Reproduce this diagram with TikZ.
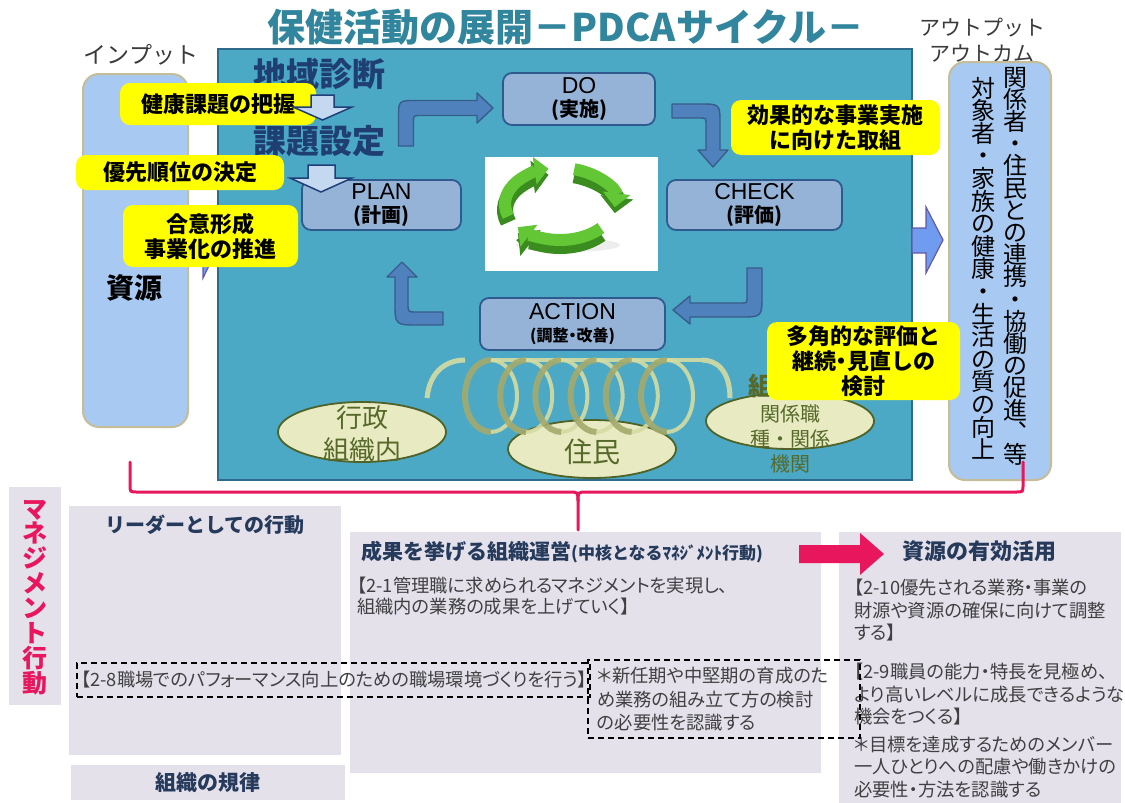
\documentclass[tikz,border=0pt]{standalone}
\usepackage{fontspec}
\setmainfont{Noto Sans CJK JP}
\newfontfamily\bodyjp[RawFeature=+palt]{Noto Sans CJK JP}
\newfontfamily\latinsans{Liberation Sans}
\usetikzlibrary{arrows.meta,shapes.geometric,calc}

\definecolor{titlecol}{HTML}{31859C}
\definecolor{labelgray}{HTML}{3A3A3A}
\definecolor{mainbg}{HTML}{4BA9C6}
\definecolor{mainedge}{HTML}{2E6A8C}
\definecolor{sidefill}{HTML}{A8CAF2}
\definecolor{sideedge}{HTML}{C4BD97}
\definecolor{pdcafill}{HTML}{95B3D7}
\definecolor{pdcaedge}{HTML}{2F5A8E}
\definecolor{calloutyellow}{HTML}{FFFF00}
\definecolor{navytext}{HTML}{1F3F73}
\definecolor{blockfill}{HTML}{4F81BD}
\definecolor{blockedge}{HTML}{385D8A}
\definecolor{hollowfill}{HTML}{C4D8EF}
\definecolor{hollowedge}{HTML}{1F3F78}
\definecolor{olivedk}{HTML}{4F6228}
\definecolor{olivetext}{HTML}{56692A}
\definecolor{ellfill}{HTML}{E8EBC2}
\definecolor{coildark}{HTML}{A4AA6C}
\definecolor{coillight}{HTML}{D5DBA2}
\definecolor{cycdark}{HTML}{3A8C1E}
\definecolor{cyclight}{HTML}{62C635}
\definecolor{outfill}{HTML}{709CEF}
\definecolor{outedge}{HTML}{6458A8}
\definecolor{hotpink}{HTML}{E8175D}
\definecolor{panelbg}{HTML}{E4E1EB}
\definecolor{ptitlecol}{HTML}{263A5C}
\definecolor{bodytext}{HTML}{404040}

\tikzset{
  sidebox/.style={fill=sidefill, draw=sideedge, line width=2pt, rounded corners=16pt, inner sep=0pt},
  pdcabox/.style={draw=pdcaedge, line width=1.8pt, fill=pdcafill, rounded corners=9pt, align=center, inner sep=0pt,
                  font=\fontsize{20}{23}\selectfont},
  callout/.style={fill=calloutyellow, rounded corners=10pt, align=center, inner sep=0pt,
                  font=\fontsize{22}{25}\selectfont\bfseries},
  ringnode/.style={ellipse, draw=olivedk, line width=1.8pt, fill=ellfill, inner sep=0pt},
  ringtext/.style={text=olivetext, align=center, inner sep=0pt},
  blockarrow/.style={fill=blockfill, draw=blockedge, line width=1.4pt, line join=round},
  hollowarrow/.style={fill=hollowfill, draw=hollowedge, line width=1.5pt, line join=miter},
  panel/.style={fill=panelbg, draw=none, inner sep=0pt},
  ptitle/.style={text=ptitlecol, inner sep=0pt, font=\fontsize{20}{22}\selectfont\bfseries},
  bodyline/.style={anchor=west, inner sep=0pt, text=bodytext, font=\bodyjp\fontsize{18.3}{20}\selectfont},
  dashbox/.style={draw=black, line width=1.2pt, dash pattern=on 6pt off 4pt, inner sep=0pt},
  vchar/.style={inner sep=0pt, text height=21pt, text depth=3pt},
  bracket/.style={draw=hotpink, line width=3pt, line cap=round},
}

\begin{document}
\begin{tikzpicture}[x=1pt,y=-1pt]
\useasboundingbox (0,0) rectangle (1125,803);
\fill[white] (0,0) rectangle (1125,803);

% ---------- headings ----------
\node[font=\fontsize{38}{40}\selectfont\bfseries, text=titlecol] (title) at (566,27) {保健活動の展開－PDCAサイクル－};
\node[font=\fontsize{23}{25}\selectfont, text=labelgray] (inlabel) at (141,55) {インプット};
\node[font=\fontsize{21}{26}\selectfont, text=labelgray, align=center] (outlabel) at (982,40) {アウトプット\\アウトカム};

% ---------- input column ----------
\node[sidebox, minimum width=105pt, minimum height=353pt] (input) at (135.5,250.5) {};
\node[font=\fontsize{28}{30}\selectfont\bfseries] (shigen) at (134,288) {資源};

% ---------- main frame ----------
\node[draw=mainedge, fill=mainbg, line width=1.8pt, minimum width=694pt, minimum height=431pt, inner sep=0pt] (mainbox) at (565,264.5) {};

% arrow from the input column into the frame
\draw[fill=outfill, draw=outedge, line width=1.2pt, line join=miter]
  (188,229) -- (203,229) -- (203,212) -- (219,245) -- (203,278) -- (203,261) -- (188,261) -- cycle;

% ---------- output column ----------
\draw[fill=outfill, draw=outedge, line width=1.2pt, line join=miter]
  (912,228) -- (926,228) -- (926,207) -- (943,240) -- (926,273) -- (926,253) -- (912,253) -- cycle;
\node[sidebox, minimum width=102pt, minimum height=418pt] (output) at (1000,271) {};
\foreach \ch [count=\k from 0] in {関,係,者,・,住,民,と,の,連,携,・,協,働,の,促,進,︑,等}
  \node[vchar, font=\fontsize{24}{24}\selectfont] (vr\k) at (1015,{77+22.2*\k}) {\ch};
\foreach \ch [count=\k from 0] in {対,象,者,・,家,族,の,健,康,・,生,活,の,質,の,向,上}
  \node[vchar, font=\fontsize{24}{24}\selectfont] (vl\k) at (983,{88+22.6*\k}) {\ch};

% ---------- diagnosis / target setting ----------
\node[font=\fontsize{33}{35}\selectfont\bfseries, text=navytext] (shindan) at (319,74) {地域診断};
\node[font=\fontsize{33}{35}\selectfont\bfseries, text=navytext] (settei) at (319,141) {課題設定};

% ---------- PDCA boxes ----------
\node[pdcabox, minimum width=152pt, minimum height=52pt] (do) at (579,99)
  {{\latinsans\fontsize{23}{23}\selectfont DO}\\{\bfseries (実施)}};
\node[pdcabox, minimum width=159pt, minimum height=50pt] (plan) at (381.5,205)
  {{\latinsans\fontsize{23}{23}\selectfont PLAN}\\{\bfseries (計画)}};
\node[pdcabox, minimum width=175pt, minimum height=50pt] (check) at (754.5,205)
  {{\latinsans\fontsize{23}{23}\selectfont CHECK}\\{\bfseries (評価)}};
\node[pdcabox, minimum width=185pt, minimum height=52pt, font=\fontsize{16}{22}\selectfont] (action) at (572.5,324)
  {{\latinsans\fontsize{23}{23}\selectfont ACTION}\\{\bodyjp\bfseries (調整・改善)}};

% ---------- bent block arrows of the cycle ----------
% plan -> do
\draw[blockarrow] (398.5,146) -- (398.5,118) .. controls (398.5,100.5) .. (416,100.5) -- (477,100.5)
  -- (477,93) -- (493,108) -- (477,123) -- (477,115.5) -- (420,115.5) .. controls (413.5,115.5) .. (413.5,122)
  -- (413.5,146) -- cycle;
% do -> check
\draw[blockarrow] (672,104) -- (700,104) .. controls (720,104) .. (720,124) -- (720,150) -- (728,150)
  -- (713,167) -- (698,150) -- (706,150) -- (706,124) .. controls (706,118) .. (700,118) -- (672,118) -- cycle;
% check -> action
\draw[blockarrow] (747,268) -- (762,268) -- (762,295) .. controls (762,317) .. (740,317) -- (690,317)
  -- (690,324) -- (673,310) -- (690,296) -- (690,303) -- (741,303) .. controls (747,303) .. (747,297) -- cycle;
% action -> plan
\draw[blockarrow] (443,325) -- (418,325) .. controls (395,325) .. (395,302) -- (395,277) -- (387,277)
  -- (402,262) -- (417,277) -- (408,277) -- (408,304) .. controls (408,312) .. (416,312) -- (443,312) -- cycle;

% ---------- cycle picture ----------
\node[fill=white, minimum width=173pt, minimum height=114pt, inner sep=0pt] (cyclepic) at (571.5,214) {};
\coordinate (cyc) at (560,204);
\fill[black!7] (568,245) ellipse [x radius=52, y radius=7];
\foreach \a/\b in {160/258, 285/365, 42/140} {
  \draw[cycdark, line width=16pt, -{Triangle[length=16pt,width=32pt]}]
    ($(cyc)+(0,6)+(\a:55 and 36)$) arc[start angle=\a, end angle=\b, x radius=55, y radius=36];
  \draw[cyclight, line width=12pt, -{Triangle[length=14pt,width=27pt]}]
    ($(cyc)+(\a:55 and 36)$) arc[start angle=\a, end angle=\b, x radius=55, y radius=36];
}

% ---------- partners ----------
\node[ringnode, minimum width=168pt, minimum height=60pt] (gyosei) at (362,432) {};
\node[ringnode, minimum width=168pt, minimum height=58pt] (jumin) at (592,449) {};
\node[ringnode, minimum width=168pt, minimum height=56pt] (kankei) at (790,421) {};
\node[ringtext, font=\fontsize{26}{32}\selectfont] (gyoseitxt) at (362,434) {行政\\組織内};
\node[ringtext, font=\fontsize{28}{30}\selectfont] (jumintxt) at (592,452) {住民};
\node[ringtext, font=\fontsize{20}{25}\selectfont] (kankeitxt) at (790,439) {関係職\\種・関係\\機関};
\node[text=olivetext, font=\fontsize{25}{26}\selectfont\bfseries, inner sep=0pt] (soshiki) at (761,386) {組};

% coil linking the partners
\draw[coillight, line width=5pt, opacity=0.9] (427,398) .. controls (430,368) and (450,360) .. (465,360);
\foreach \k in {0,...,5} {
  \pgfmathsetmacro\cx{491+35.2*\k}
  \draw[coildark, line width=6pt, opacity=0.9] (\cx,360) arc[start angle=270, end angle=90, x radius=26, y radius=36];
  \draw[coillight, line width=4pt, opacity=0.9] (\cx,360) arc[start angle=-90, end angle=90, x radius=26, y radius=36];
  \draw[coillight, line width=4pt, opacity=0.9] (\cx,360) -- ++(35.2,0);
}
\draw[coillight, line width=5pt, opacity=0.9] (702,360) .. controls (716,360) and (730,370) .. (730,398);

% ---------- hollow step arrows ----------
\draw[hollowarrow] (308,165) -- (335,165) -- (335,178) -- (352,178) -- (321,192) -- (290,178) -- (308,178) -- cycle;

% ---------- yellow notes ----------
\node[callout, minimum width=196pt, minimum height=42pt] (note1) at (218,104) {健康課題の把握};
\node[callout, minimum width=208pt, minimum height=35pt] (note2) at (180,172.5) {優先順位の決定};
\node[callout, minimum width=175pt, minimum height=62pt] (note3) at (210.5,236) {合意形成\\事業化の推進};
\node[callout, minimum width=209pt, minimum height=55pt] (note4) at (835.5,127.5) {効果的な事業実施\\に向けた取組};
\node[callout, minimum width=193pt, minimum height=78pt] (note5) at (863.5,361) {多角的な評価と\\継続{\bodyjp\bfseries ・}見直しの\\検討};

\draw[hollowarrow] (311,95) -- (334,95) -- (334,107) -- (352,107) -- (322.5,120) -- (293,107) -- (311,107) -- cycle;

% ---------- bracket joining the cycle to management ----------
\coordinate (bl) at (130,462);
\coordinate (br) at (1023,462);
\coordinate (bm) at (578,530);
\draw[bracket] (bl) -- (130,485) .. controls (130,492) .. (137,492) -- (569,492) .. controls (578,492) .. (578,501) -- (bm);
\draw[bracket] (br) -- (1023,485) .. controls (1023,492) .. (1016,492) -- (587,492) .. controls (578,492) .. (578,501);

% ---------- management panels ----------
\node[panel, minimum width=52pt, minimum height=218pt] (mgmt) at (35,596) {};
\foreach \ch [count=\k from 0] in {マ,ネ,ジ,メ,ン,ト,行,動}
  \node[vchar, text=hotpink, font=\fontsize{25}{25}\selectfont\bfseries] (mg\k) at (35,{509+24.9*\k}) {\ch};

\node[panel, minimum width=272pt, minimum height=249pt] (leader) at (205,630.5) {};
\node[panel, minimum width=274pt, minimum height=35pt] (kiritsu) at (208,782.5) {};
\node[panel, minimum width=471pt, minimum height=241pt] (unei) at (585.5,652.5) {};
\node[panel, minimum width=282pt, minimum height=275pt] (katsuyo) at (980,669.5) {};

\node[ptitle] (leadertitle) at (205,525) {リーダーとしての行動};
\node[ptitle, font=\fontsize{21}{23}\selectfont\bfseries] (kiritsutitle) at (208,783) {組織の規律};
\node[ptitle, anchor=west, font=\fontsize{21}{23}\selectfont\bfseries] (ueititle) at (361,552)
  {成果を挙げる組織運営{\fontsize{17}{19}\selectfont(中核となるﾏﾈｼﾞﾒﾝﾄ行動)}};
\node[ptitle, font=\fontsize{22}{24}\selectfont\bfseries] (katsuyotitle) at (979,551) {資源の有効活用};

% arrow between the two headings
\draw[fill=hotpink, draw=none] (799,545) -- (860,545) -- (860,533) -- (884,554) -- (860,575) -- (860,563) -- (799,563) -- cycle;

\node[bodyline] (u1) at (357,586) {【2-1管理職に求められるマネジメントを実現し、};
\node[bodyline] (u2) at (357,607) {組織内の業務の成果を上げていく】};

\foreach \t/\yy [count=\k] in {{【2-10優先される業務・事業の}/588, {財源や資源の確保に向けて調整}/611, {する】}/633,
    {【2-9職員の能力・特長を見極め、}/672, {より高いレベルに成長できるような}/695, {機会をつくる】}/717,
    {＊目標を達成するためのメンバー}/745, {一人ひとりへの配慮や働きかけの}/767, {必要性・方法を認識する}/790}
  \node[bodyline] (k\k) at (854,\yy) {\t};

% dashed notes
\node[dashbox, minimum width=513pt, minimum height=34pt] (note28) at (333.5,680) {};
\node[bodyline] (note28txt) at (81,680) {【2-8職場でのパフォーマンス向上のための職場環境づくりを行う】};
\node[dashbox, minimum width=272pt, minimum height=78pt] (noteshin) at (724,699) {};
\node[bodyline] (s1) at (597,676) {＊新任期や中堅期の育成のた};
\node[bodyline] (s2) at (597,700) {め業務の組み立て方の検討};
\node[bodyline] (s3) at (597,723) {の必要性を認識する};

\end{tikzpicture}
\end{document}
